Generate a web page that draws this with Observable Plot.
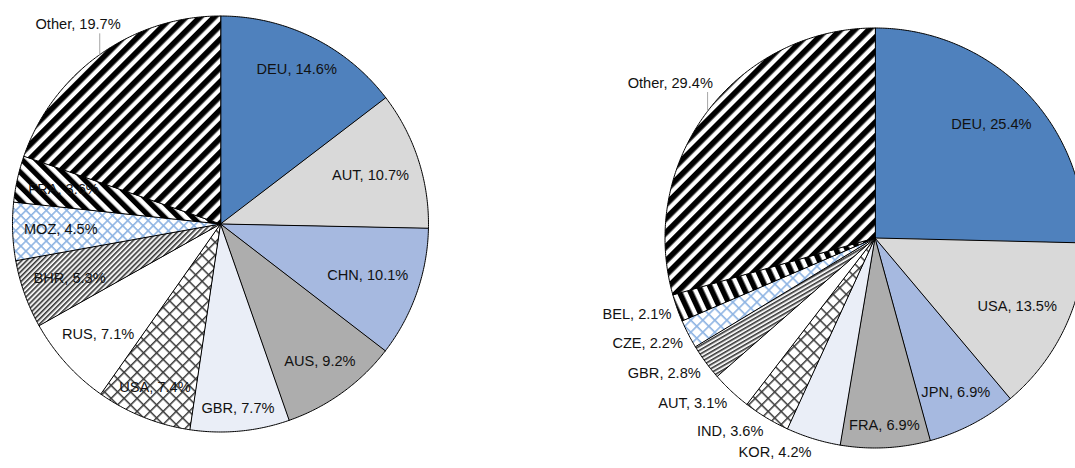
<!DOCTYPE html>
<html>
<head>
<meta charset="utf-8">
<script src="https://cdn.jsdelivr.net/npm/d3@7"></script>
<script src="https://cdn.jsdelivr.net/npm/@observablehq/plot@0.6"></script>
<style>
  html, body { margin: 0; padding: 0; background: #fff; overflow: hidden; }
  #wrap { position: relative; width: 1075px; height: 468px; overflow: hidden; }
  #wrap svg { position: absolute; top: 0; }
</style>
</head>
<body>
<div id="wrap"></div>
<script>
// Shares by country, clockwise from 12 o'clock
const leftCountries = ["DEU", "AUT", "CHN", "AUS", "GBR", "USA", "RUS", "BHR", "MOZ", "FRA", "Other"];
const leftShares    = [14.6, 10.7, 10.1, 9.2, 7.7, 7.4, 7.1, 5.3, 4.5, 3.6, 19.7];

const rightCountries = ["DEU", "USA", "JPN", "FRA", "KOR", "IND", "AUT", "GBR", "CZE", "BEL", "Other"];
const rightShares    = [25.4, 13.5, 6.9, 6.9, 4.2, 3.6, 3.1, 2.8, 2.2, 2.1, 29.4];

// Slice styles by rank (same sequence in both pies); pattern names refer to <pattern> defs
const sliceStyles = ["#4F81BD", "#D9D9D9", "#A6B9E0", "#ADADAD", "#EAEEF7",
                     "crosshatch", "#FFFFFF", "finestripe", "bluegrid", "widedown", "wideup"];

const FONT = "'Liberation Sans', Arial, sans-serif";
const FONT_SIZE = 14.6;
const LABEL_H = 16;

const measureCtx = document.createElement("canvas").getContext("2d");
measureCtx.font = `${FONT_SIZE}px ${FONT}`;
const textWidth = (s) => measureCtx.measureText(s).width;

function fmt(name, v) { return `${name}, ${v.toFixed(1)}%`; }

// <defs> with the hatch patterns of one pie
function patternDefs(prefix, spec) {
  return () => {
    const defs = d3.create("svg:defs");
    const stripes = (id, period, bar, angle, color) => {
      const p = defs.append("pattern").attr("id", `${prefix}-${id}`)
        .attr("patternUnits", "userSpaceOnUse")
        .attr("width", period).attr("height", period)
        .attr("patternTransform", `rotate(${angle})`);
      p.append("rect").attr("width", period).attr("height", period).attr("fill", "#fff");
      p.append("rect").attr("x", -0.7).attr("width", bar + 1.4).attr("height", period).attr("fill", color).attr("opacity", 0.45);
      p.append("rect").attr("width", bar).attr("height", period).attr("fill", color);
    };
    const grid = (id, period, lw, angle, color) => {
      const p = defs.append("pattern").attr("id", `${prefix}-${id}`)
        .attr("patternUnits", "userSpaceOnUse")
        .attr("width", period).attr("height", period)
        .attr("patternTransform", `rotate(${angle})`);
      p.append("rect").attr("width", period).attr("height", period).attr("fill", "#fff");
      p.append("rect").attr("width", period).attr("height", lw).attr("fill", color);
      p.append("rect").attr("width", lw).attr("height", period).attr("fill", color);
    };
    stripes("wideup", spec.wideup.period, spec.wideup.bar, 45, "#000");
    stripes("widedown", spec.widedown.period, spec.widedown.bar, spec.widedown.angle, "#000");
    stripes("finestripe", 3.6, 1.4, spec.fineAngle, "#3a3a3a");
    grid("crosshatch", 9.2, 1.5, 45, "#3c3c3c");
    grid("bluegrid", spec.blueGrid, 1.6, 45, "#8EB4E3");
    return defs.node();
  };
}

function pieChart({countries, shares, prefix, cx, cy, r, width, height, inset, gap, calloutGap, spec}) {
  const data = countries.map((c, i) => ({country: c, share: shares[i], style: sliceStyles[i]}));
  const arcs = d3.pie().sort(null).value((d) => d.share)(data);

  // slice outlines as closed polylines in radius units (y up)
  const pts = [];
  for (const a of arcs) {
    const fill = a.data.style.startsWith("#") ? a.data.style : `url(#${prefix}-${a.data.style})`;
    pts.push({id: a.data.country, x: 0, y: 0, fill});
    const n = Math.max(2, Math.ceil((a.endAngle - a.startAngle) / (Math.PI / 360)));
    for (let k = 0; k <= n; ++k) {
      const t = a.startAngle + (a.endAngle - a.startAngle) * k / n;
      pts.push({id: a.data.country, x: Math.sin(t), y: Math.cos(t), fill});
    }
  }

  // label placement (pixels, y up, relative to the pie centre)
  const labels = [], leaders = [];
  const tol = 2 * Math.PI / 180;
  const within = (ang, a) => {
    const rel = ((ang - a.startAngle) % (2 * Math.PI) + 3 * Math.PI) % (2 * Math.PI) - Math.PI;
    return rel >= -tol && rel <= (a.endAngle - a.startAngle) + tol;
  };
  for (const a of arcs) {
    const text = fmt(a.data.country, a.data.share);
    const w = textWidth(text), h = LABEL_H;
    const m = (a.startAngle + a.endAngle) / 2;
    const s = Math.sin(m), c = Math.cos(m);
    const ext = w / 2 * Math.abs(s) + h / 2 * Math.abs(c);
    let lx, ly;
    if (a.data.country === "Other") {
      // callout outside the pie with a vertical leader
      const d = r + calloutGap + ext;
      lx = d * s; ly = d * c;
      leaders.push({x1: s, y1: c, x2: s, y2: (ly - h / 2 - 1) / r});
    } else {
      const d = r - inset - ext;
      lx = d * s; ly = d * c;
      const corners = [[lx - w / 2, ly - h / 2], [lx + w / 2, ly - h / 2], [lx - w / 2, ly + h / 2], [lx + w / 2, ly + h / 2]];
      const fits = corners.every(([x, y]) => within((Math.atan2(x, y) + 2 * Math.PI) % (2 * Math.PI), a));
      if (!fits) {
        // too narrow: put the label just outside the rim
        const R = r + gap;
        const k = Math.max(-1, Math.min(1, 1.7 * c));
        lx = R * s + Math.sign(s) * w / 2;
        ly = R * c + k * h / 2;
      }
    }
    labels.push({x: lx / r, y: ly / r, text});
  }

  return Plot.plot({
    width, height,
    margin: 0,
    x: {domain: [-cx / r, (width - cx) / r], axis: null},
    y: {domain: [-(height - cy) / r, cy / r], axis: null},
    color: {type: "identity"},
    style: {background: "transparent", overflow: "hidden"},
    marks: [
      patternDefs(prefix, spec),
      Plot.line(pts, {x: "x", y: "y", z: "id", fill: "fill", stroke: "#000", strokeWidth: 1,
                      curve: "linear-closed", strokeLinejoin: "round"}),
      Plot.link(leaders, {x1: "x1", y1: "y1", x2: "x2", y2: "y2", stroke: "#A6A6A6", strokeWidth: 1}),
      Plot.text(labels, {x: "x", y: "y", text: "text", fontSize: FONT_SIZE, fontFamily: FONT,
                         fill: "#111", textAnchor: "middle"})
    ]
  });
}

const wrap = document.getElementById("wrap");

const leftSvg = pieChart({
  countries: leftCountries, shares: leftShares, prefix: "pl",
  cx: 220, cy: 223.5, r: 208, width: 540, height: 468,
  inset: 11, gap: 6, calloutGap: 6,
  spec: {wideup: {period: 10, bar: 5.4}, widedown: {period: 10, bar: 5, angle: -45}, fineAngle: 45, blueGrid: 7.2}
});
leftSvg.style.left = "0px";
wrap.appendChild(leftSvg);

const rightSvg = pieChart({
  countries: rightCountries, shares: rightShares, prefix: "pr",
  cx: 334.5, cy: 237.5, r: 210, width: 535, height: 468,
  inset: 13, gap: 6, calloutGap: 8,
  spec: {wideup: {period: 10, bar: 5.4}, widedown: {period: 10, bar: 5.2, angle: -25}, fineAngle: 60, blueGrid: 8.5}
});
rightSvg.style.left = "540px";
wrap.appendChild(rightSvg);
</script>
</body>
</html>
